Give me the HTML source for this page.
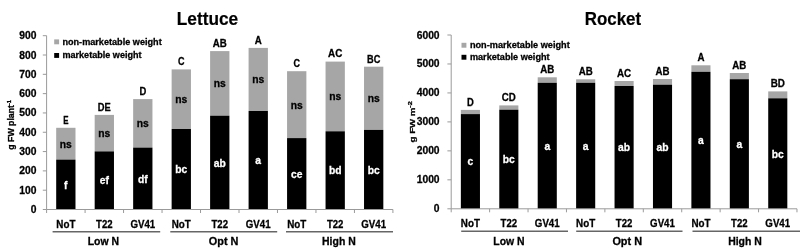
<!DOCTYPE html>
<html lang="en"><head><meta charset="utf-8"><title>Lettuce and Rocket yield</title>
<style>html,body{margin:0;padding:0;background:#fff}body{width:800px;height:250px;overflow:hidden}svg{display:block;will-change:transform;filter:blur(0.4px)}text{font-family:"Liberation Sans", Arial, sans-serif;font-weight:bold;fill:#000;stroke:#000;stroke-width:0.28px}.tk,.cat,.grp,.top,.ns,.in{font-size:10.3px}.in{fill:#fff;stroke:#fff}.ttl{stroke-width:0.2px}.ttl{font-size:18.3px}.lg,.yl{font-size:9.05px}.sup{font-size:6px}</style></head><body>
<svg width="800" height="250" viewBox="0 0 800 250">
<rect width="800" height="250" fill="#fff"/>
<rect x="56.19" y="127.80" width="19.30" height="31.80" fill="#a6a6a6"/>
<rect x="56.19" y="159.60" width="19.30" height="49.90" fill="#000"/>
<rect x="94.67" y="114.90" width="19.30" height="36.50" fill="#a6a6a6"/>
<rect x="94.67" y="151.40" width="19.30" height="58.10" fill="#000"/>
<rect x="133.15" y="99.10" width="19.30" height="48.50" fill="#a6a6a6"/>
<rect x="133.15" y="147.60" width="19.30" height="61.90" fill="#000"/>
<rect x="171.63" y="69.40" width="19.30" height="59.60" fill="#a6a6a6"/>
<rect x="171.63" y="129.00" width="19.30" height="80.50" fill="#000"/>
<rect x="210.11" y="51.10" width="19.30" height="64.60" fill="#a6a6a6"/>
<rect x="210.11" y="115.70" width="19.30" height="93.80" fill="#000"/>
<rect x="248.59" y="47.90" width="19.30" height="63.10" fill="#a6a6a6"/>
<rect x="248.59" y="111.00" width="19.30" height="98.50" fill="#000"/>
<rect x="287.07" y="71.20" width="19.30" height="66.90" fill="#a6a6a6"/>
<rect x="287.07" y="138.10" width="19.30" height="71.40" fill="#000"/>
<rect x="325.55" y="61.60" width="19.30" height="69.70" fill="#a6a6a6"/>
<rect x="325.55" y="131.30" width="19.30" height="78.20" fill="#000"/>
<rect x="364.03" y="66.70" width="19.30" height="63.20" fill="#a6a6a6"/>
<rect x="364.03" y="129.90" width="19.30" height="79.60" fill="#000"/>
<path d="M46.60 35.70 V209.50 H392.92" fill="none" stroke="#9a9a9a" stroke-width="1"/>
<path d="M42.80 209.50 H46.60" stroke="#9a9a9a" stroke-width="1"/>
<text x="36.40" y="213.00" text-anchor="end" class="tk">0</text>
<path d="M42.80 190.19 H46.60" stroke="#9a9a9a" stroke-width="1"/>
<text x="36.40" y="193.69" text-anchor="end" class="tk">100</text>
<path d="M42.80 170.88 H46.60" stroke="#9a9a9a" stroke-width="1"/>
<text x="36.40" y="174.38" text-anchor="end" class="tk">200</text>
<path d="M42.80 151.57 H46.60" stroke="#9a9a9a" stroke-width="1"/>
<text x="36.40" y="155.07" text-anchor="end" class="tk">300</text>
<path d="M42.80 132.26 H46.60" stroke="#9a9a9a" stroke-width="1"/>
<text x="36.40" y="135.76" text-anchor="end" class="tk">400</text>
<path d="M42.80 112.94 H46.60" stroke="#9a9a9a" stroke-width="1"/>
<text x="36.40" y="116.44" text-anchor="end" class="tk">500</text>
<path d="M42.80 93.63 H46.60" stroke="#9a9a9a" stroke-width="1"/>
<text x="36.40" y="97.13" text-anchor="end" class="tk">600</text>
<path d="M42.80 74.32 H46.60" stroke="#9a9a9a" stroke-width="1"/>
<text x="36.40" y="77.82" text-anchor="end" class="tk">700</text>
<path d="M42.80 55.01 H46.60" stroke="#9a9a9a" stroke-width="1"/>
<text x="36.40" y="58.51" text-anchor="end" class="tk">800</text>
<path d="M42.80 35.70 H46.60" stroke="#9a9a9a" stroke-width="1"/>
<text x="36.40" y="39.20" text-anchor="end" class="tk">900</text>
<path d="M46.60 209.50 V213.00" stroke="#9a9a9a" stroke-width="1"/>
<path d="M85.08 209.50 V213.00" stroke="#9a9a9a" stroke-width="1"/>
<path d="M123.56 209.50 V213.00" stroke="#9a9a9a" stroke-width="1"/>
<path d="M162.04 209.50 V213.00" stroke="#9a9a9a" stroke-width="1"/>
<path d="M200.52 209.50 V213.00" stroke="#9a9a9a" stroke-width="1"/>
<path d="M239.00 209.50 V213.00" stroke="#9a9a9a" stroke-width="1"/>
<path d="M277.48 209.50 V213.00" stroke="#9a9a9a" stroke-width="1"/>
<path d="M315.96 209.50 V213.00" stroke="#9a9a9a" stroke-width="1"/>
<path d="M354.44 209.50 V213.00" stroke="#9a9a9a" stroke-width="1"/>
<path d="M392.92 209.50 V213.00" stroke="#9a9a9a" stroke-width="1"/>
<text x="65.84" y="123.60" text-anchor="middle" textLength="5.3" lengthAdjust="spacingAndGlyphs" class="top">E</text>
<text x="65.84" y="147.70" text-anchor="middle" class="ns">ns</text>
<text x="65.84" y="188.55" text-anchor="middle" class="in">f</text>
<text x="104.32" y="110.70" text-anchor="middle" textLength="13.0" lengthAdjust="spacingAndGlyphs" class="top">DE</text>
<text x="104.32" y="137.15" text-anchor="middle" class="ns">ns</text>
<text x="104.32" y="184.45" text-anchor="middle" class="in">ef</text>
<text x="142.80" y="94.90" text-anchor="middle" textLength="6.8" lengthAdjust="spacingAndGlyphs" class="top">D</text>
<text x="142.80" y="127.35" text-anchor="middle" class="ns">ns</text>
<text x="142.80" y="182.55" text-anchor="middle" class="in">df</text>
<text x="181.28" y="65.20" text-anchor="middle" textLength="6.5" lengthAdjust="spacingAndGlyphs" class="top">C</text>
<text x="181.28" y="103.20" text-anchor="middle" class="ns">ns</text>
<text x="181.28" y="173.25" text-anchor="middle" class="in">bc</text>
<text x="219.76" y="46.90" text-anchor="middle" textLength="14.0" lengthAdjust="spacingAndGlyphs" class="top">AB</text>
<text x="219.76" y="87.40" text-anchor="middle" class="ns">ns</text>
<text x="219.76" y="166.60" text-anchor="middle" class="in">ab</text>
<text x="258.24" y="43.70" text-anchor="middle" textLength="7.0" lengthAdjust="spacingAndGlyphs" class="top">A</text>
<text x="258.24" y="83.45" text-anchor="middle" class="ns">ns</text>
<text x="258.24" y="164.25" text-anchor="middle" class="in">a</text>
<text x="296.72" y="67.00" text-anchor="middle" textLength="6.5" lengthAdjust="spacingAndGlyphs" class="top">C</text>
<text x="296.72" y="108.65" text-anchor="middle" class="ns">ns</text>
<text x="296.72" y="177.80" text-anchor="middle" class="in">ce</text>
<text x="335.20" y="57.40" text-anchor="middle" textLength="14.2" lengthAdjust="spacingAndGlyphs" class="top">AC</text>
<text x="335.20" y="100.45" text-anchor="middle" class="ns">ns</text>
<text x="335.20" y="174.40" text-anchor="middle" class="in">bd</text>
<text x="373.68" y="62.50" text-anchor="middle" textLength="13.3" lengthAdjust="spacingAndGlyphs" class="top">BC</text>
<text x="373.68" y="102.30" text-anchor="middle" class="ns">ns</text>
<text x="373.68" y="173.70" text-anchor="middle" class="in">bc</text>
<text x="65.84" y="227.70" text-anchor="middle" textLength="19.1" lengthAdjust="spacingAndGlyphs" class="cat">NoT</text>
<text x="104.32" y="227.70" text-anchor="middle" textLength="16.5" lengthAdjust="spacingAndGlyphs" class="cat">T22</text>
<text x="142.80" y="227.70" text-anchor="middle" textLength="24.8" lengthAdjust="spacingAndGlyphs" class="cat">GV41</text>
<text x="181.28" y="227.70" text-anchor="middle" textLength="19.1" lengthAdjust="spacingAndGlyphs" class="cat">NoT</text>
<text x="219.76" y="227.70" text-anchor="middle" textLength="16.5" lengthAdjust="spacingAndGlyphs" class="cat">T22</text>
<text x="258.24" y="227.70" text-anchor="middle" textLength="24.8" lengthAdjust="spacingAndGlyphs" class="cat">GV41</text>
<text x="296.72" y="227.70" text-anchor="middle" textLength="19.1" lengthAdjust="spacingAndGlyphs" class="cat">NoT</text>
<text x="335.20" y="227.70" text-anchor="middle" textLength="16.5" lengthAdjust="spacingAndGlyphs" class="cat">T22</text>
<text x="373.68" y="227.70" text-anchor="middle" textLength="24.8" lengthAdjust="spacingAndGlyphs" class="cat">GV41</text>
<path d="M52.60 231.80 H160.20" stroke="#666" stroke-width="1.4"/>
<path d="M170.30 231.80 H277.20" stroke="#666" stroke-width="1.4"/>
<path d="M286.00 231.80 H393.00" stroke="#666" stroke-width="1.4"/>
<text x="103.30" y="245.20" text-anchor="middle" textLength="31.3" lengthAdjust="spacingAndGlyphs" class="grp">Low N</text>
<text x="223.60" y="245.20" text-anchor="middle" textLength="29.6" lengthAdjust="spacingAndGlyphs" class="grp">Opt N</text>
<text x="338.90" y="245.20" text-anchor="middle" textLength="33.6" lengthAdjust="spacingAndGlyphs" class="grp">High N</text>
<text x="207.50" y="24.80" text-anchor="middle" textLength="61.3" lengthAdjust="spacingAndGlyphs" class="ttl">Lettuce</text>
<text transform="translate(13.7,124.8) rotate(-90)" text-anchor="middle" textLength="49.8" lengthAdjust="spacingAndGlyphs" class="yl">g FW plant<tspan dy="-3.2" class="sup">-1</tspan></text>
<rect x="54.2" y="39.4" width="4.9" height="4.9" fill="#a6a6a6"/><text x="62.40" y="45.00" textLength="99.3" lengthAdjust="spacingAndGlyphs" class="lg">non-marketable weight</text>
<rect x="54.2" y="53.0" width="4.9" height="4.9" fill="#000"/><text x="62.40" y="58.10" textLength="79.2" lengthAdjust="spacingAndGlyphs" class="lg">marketable weight</text>
<rect x="460.86" y="109.90" width="19.10" height="4.20" fill="#a6a6a6"/>
<rect x="460.86" y="114.10" width="19.10" height="94.70" fill="#000"/>
<rect x="499.28" y="105.40" width="19.10" height="4.30" fill="#a6a6a6"/>
<rect x="499.28" y="109.70" width="19.10" height="99.10" fill="#000"/>
<rect x="537.70" y="77.30" width="19.10" height="5.50" fill="#a6a6a6"/>
<rect x="537.70" y="82.80" width="19.10" height="126.00" fill="#000"/>
<rect x="576.12" y="79.30" width="19.10" height="3.50" fill="#a6a6a6"/>
<rect x="576.12" y="82.80" width="19.10" height="126.00" fill="#000"/>
<rect x="614.54" y="81.00" width="19.10" height="5.00" fill="#a6a6a6"/>
<rect x="614.54" y="86.00" width="19.10" height="122.80" fill="#000"/>
<rect x="652.96" y="79.00" width="19.10" height="5.70" fill="#a6a6a6"/>
<rect x="652.96" y="84.70" width="19.10" height="124.10" fill="#000"/>
<rect x="691.38" y="65.30" width="19.10" height="6.50" fill="#a6a6a6"/>
<rect x="691.38" y="71.80" width="19.10" height="137.00" fill="#000"/>
<rect x="729.80" y="73.00" width="19.10" height="6.20" fill="#a6a6a6"/>
<rect x="729.80" y="79.20" width="19.10" height="129.60" fill="#000"/>
<rect x="768.22" y="91.40" width="19.10" height="6.90" fill="#a6a6a6"/>
<rect x="768.22" y="98.30" width="19.10" height="110.50" fill="#000"/>
<path d="M451.20 35.00 V208.80 H796.98" fill="none" stroke="#9a9a9a" stroke-width="1"/>
<path d="M447.40 208.80 H451.20" stroke="#9a9a9a" stroke-width="1"/>
<text x="439.60" y="212.30" text-anchor="end" class="tk">0</text>
<path d="M447.40 179.83 H451.20" stroke="#9a9a9a" stroke-width="1"/>
<text x="439.60" y="183.33" text-anchor="end" class="tk">1000</text>
<path d="M447.40 150.87 H451.20" stroke="#9a9a9a" stroke-width="1"/>
<text x="439.60" y="154.37" text-anchor="end" class="tk">2000</text>
<path d="M447.40 121.90 H451.20" stroke="#9a9a9a" stroke-width="1"/>
<text x="439.60" y="125.40" text-anchor="end" class="tk">3000</text>
<path d="M447.40 92.93 H451.20" stroke="#9a9a9a" stroke-width="1"/>
<text x="439.60" y="96.43" text-anchor="end" class="tk">4000</text>
<path d="M447.40 63.97 H451.20" stroke="#9a9a9a" stroke-width="1"/>
<text x="439.60" y="67.47" text-anchor="end" class="tk">5000</text>
<path d="M447.40 35.00 H451.20" stroke="#9a9a9a" stroke-width="1"/>
<text x="439.60" y="38.50" text-anchor="end" class="tk">6000</text>
<path d="M451.20 208.80 V212.30" stroke="#9a9a9a" stroke-width="1"/>
<path d="M489.62 208.80 V212.30" stroke="#9a9a9a" stroke-width="1"/>
<path d="M528.04 208.80 V212.30" stroke="#9a9a9a" stroke-width="1"/>
<path d="M566.46 208.80 V212.30" stroke="#9a9a9a" stroke-width="1"/>
<path d="M604.88 208.80 V212.30" stroke="#9a9a9a" stroke-width="1"/>
<path d="M643.30 208.80 V212.30" stroke="#9a9a9a" stroke-width="1"/>
<path d="M681.72 208.80 V212.30" stroke="#9a9a9a" stroke-width="1"/>
<path d="M720.14 208.80 V212.30" stroke="#9a9a9a" stroke-width="1"/>
<path d="M758.56 208.80 V212.30" stroke="#9a9a9a" stroke-width="1"/>
<path d="M796.98 208.80 V212.30" stroke="#9a9a9a" stroke-width="1"/>
<text x="470.41" y="105.70" text-anchor="middle" textLength="6.8" lengthAdjust="spacingAndGlyphs" class="top">D</text>
<text x="470.41" y="165.45" text-anchor="middle" class="in">c</text>
<text x="508.83" y="101.20" text-anchor="middle" textLength="14.0" lengthAdjust="spacingAndGlyphs" class="top">CD</text>
<text x="508.83" y="163.25" text-anchor="middle" class="in">bc</text>
<text x="547.25" y="73.10" text-anchor="middle" textLength="14.0" lengthAdjust="spacingAndGlyphs" class="top">AB</text>
<text x="547.25" y="149.80" text-anchor="middle" class="in">a</text>
<text x="585.67" y="75.10" text-anchor="middle" textLength="14.0" lengthAdjust="spacingAndGlyphs" class="top">AB</text>
<text x="585.67" y="149.80" text-anchor="middle" class="in">a</text>
<text x="624.09" y="76.80" text-anchor="middle" textLength="14.2" lengthAdjust="spacingAndGlyphs" class="top">AC</text>
<text x="624.09" y="151.40" text-anchor="middle" class="in">ab</text>
<text x="662.51" y="74.80" text-anchor="middle" textLength="14.0" lengthAdjust="spacingAndGlyphs" class="top">AB</text>
<text x="662.51" y="150.75" text-anchor="middle" class="in">ab</text>
<text x="700.93" y="61.10" text-anchor="middle" textLength="7.0" lengthAdjust="spacingAndGlyphs" class="top">A</text>
<text x="700.93" y="144.30" text-anchor="middle" class="in">a</text>
<text x="739.35" y="68.80" text-anchor="middle" textLength="14.0" lengthAdjust="spacingAndGlyphs" class="top">AB</text>
<text x="739.35" y="148.00" text-anchor="middle" class="in">a</text>
<text x="777.77" y="87.20" text-anchor="middle" textLength="14.2" lengthAdjust="spacingAndGlyphs" class="top">BD</text>
<text x="777.77" y="157.55" text-anchor="middle" class="in">bc</text>
<text x="470.41" y="227.20" text-anchor="middle" textLength="19.1" lengthAdjust="spacingAndGlyphs" class="cat">NoT</text>
<text x="508.83" y="227.20" text-anchor="middle" textLength="16.5" lengthAdjust="spacingAndGlyphs" class="cat">T22</text>
<text x="547.25" y="227.20" text-anchor="middle" textLength="24.8" lengthAdjust="spacingAndGlyphs" class="cat">GV41</text>
<text x="585.67" y="227.20" text-anchor="middle" textLength="19.1" lengthAdjust="spacingAndGlyphs" class="cat">NoT</text>
<text x="624.09" y="227.20" text-anchor="middle" textLength="16.5" lengthAdjust="spacingAndGlyphs" class="cat">T22</text>
<text x="662.51" y="227.20" text-anchor="middle" textLength="24.8" lengthAdjust="spacingAndGlyphs" class="cat">GV41</text>
<text x="700.93" y="227.20" text-anchor="middle" textLength="19.1" lengthAdjust="spacingAndGlyphs" class="cat">NoT</text>
<text x="739.35" y="227.20" text-anchor="middle" textLength="16.5" lengthAdjust="spacingAndGlyphs" class="cat">T22</text>
<text x="777.77" y="227.20" text-anchor="middle" textLength="24.8" lengthAdjust="spacingAndGlyphs" class="cat">GV41</text>
<path d="M461.20 231.30 H568.00" stroke="#666" stroke-width="1.4"/>
<path d="M576.20 231.30 H682.50" stroke="#666" stroke-width="1.4"/>
<path d="M692.50 231.30 H800.00" stroke="#666" stroke-width="1.4"/>
<text x="509.00" y="244.70" text-anchor="middle" textLength="31.3" lengthAdjust="spacingAndGlyphs" class="grp">Low N</text>
<text x="627.20" y="244.70" text-anchor="middle" textLength="29.6" lengthAdjust="spacingAndGlyphs" class="grp">Opt N</text>
<text x="745.00" y="244.70" text-anchor="middle" textLength="33.6" lengthAdjust="spacingAndGlyphs" class="grp">High N</text>
<text x="613.00" y="24.80" text-anchor="middle" textLength="56.3" lengthAdjust="spacingAndGlyphs" class="ttl">Rocket</text>
<text transform="translate(415.2,121.8) rotate(-90)" text-anchor="middle" textLength="41.2" lengthAdjust="spacingAndGlyphs" class="yl" style="font-size:8px">g FW m<tspan dy="-3.2" class="sup">-2</tspan></text>
<rect x="461.5" y="42.8" width="4.9" height="4.9" fill="#a6a6a6"/><text x="469.90" y="48.10" textLength="99.8" lengthAdjust="spacingAndGlyphs" class="lg">non-marketable weight</text>
<rect x="461.5" y="54.8" width="4.9" height="4.9" fill="#000"/><text x="469.90" y="60.00" textLength="79.7" lengthAdjust="spacingAndGlyphs" class="lg">marketable weight</text>
</svg></body></html>
